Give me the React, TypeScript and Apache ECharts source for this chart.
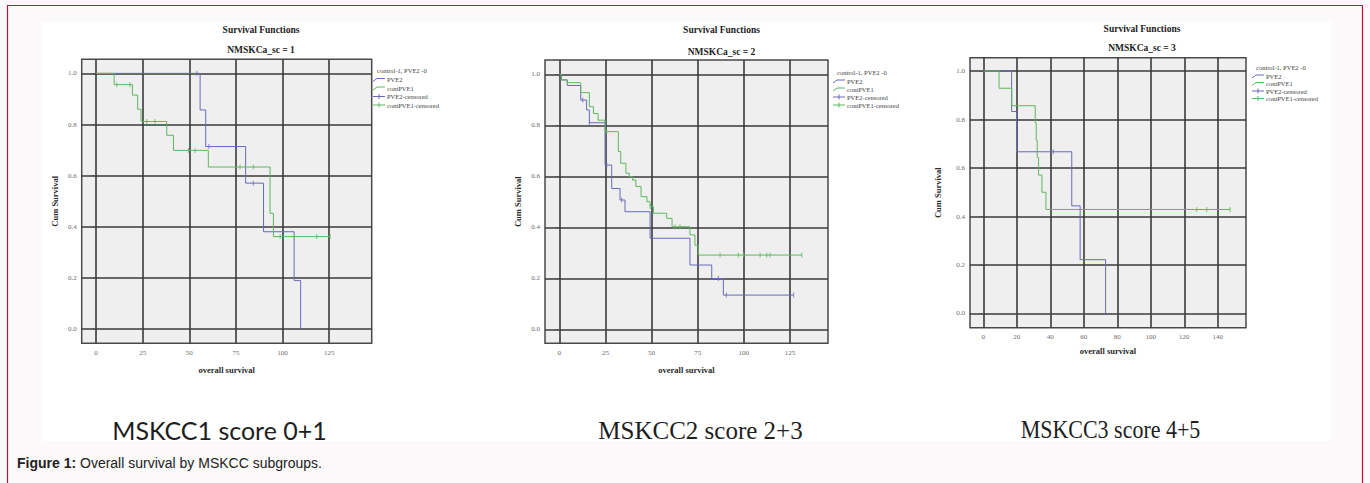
import React, { useEffect, useRef } from 'react';
import * as echarts from 'echarts';

// ---------- data ----------
const X_TICKS_A = [0, 25, 50, 75, 100, 125];
const X_TICKS_B = [0, 20, 40, 60, 80, 100, 120, 140];
const Y_TICKS = [0, 0.2, 0.4, 0.6, 0.8, 1.0];

const MAIN_TITLE = 'Survival Functions';
const PANEL_TITLES = ['NMSKCa_sc = 1', 'NMSKCa_sc = 2', 'NMSKCa_sc = 3'];
const PANEL_LABELS = ['MSKCC1 score 0+1', 'MSKCC2 score 2+3', 'MSKCC3 score 4+5'];
const LEGEND_TITLE = 'control-1, PVE2 -0';
const LEGEND_ITEMS = ['PVE2', 'contPVE1', 'PVE2-censored', 'contPVE1-censored'];
const X_NAME = 'overall survival';
const Y_NAME = 'Cum Survival';
const CAPTION_BOLD = 'Figure 1:';
const CAPTION_TEXT = ' Overall survival by MSKCC subgroups.';

// Panel 1 (NMSKCa_sc = 1)
const P1_PVE2: [number, number][] = [[0, 1], [55.8, 0.857], [58.8, 0.714], [80.2, 0.571], [89.8, 0.381], [106.2, 0.19], [109.7, 0]];
const P1_PVE2_CENS: [number, number][] = [[54, 1], [60.5, 0.714], [84.3, 0.571]];
const P1_CONT: [number, number][] = [[0, 1], [9.7, 0.956], [19.5, 0.915], [22.3, 0.86], [24.1, 0.812], [37.9, 0.758], [41.5, 0.699], [60.2, 0.634], [93.3, 0.453], [95.1, 0.362], [125.5, 0.362]];
const P1_CONT_CENS: [number, number][] = [[11.1, 0.956], [18.2, 0.956], [27.2, 0.812], [31.6, 0.812], [49.5, 0.699], [53.1, 0.699], [77.2, 0.634], [84.3, 0.634], [98.7, 0.362], [118.3, 0.362], [125.5, 0.362]];

// Panel 2 (NMSKCa_sc = 2)
const P2_PVE2: [number, number][] = [[0, 1], [1.2, 0.978], [4.3, 0.956], [11.6, 0.899], [14.8, 0.86], [16.3, 0.81], [24.8, 0.644], [28.4, 0.552], [32.9, 0.507], [35.6, 0.461], [49.2, 0.357], [70.8, 0.252], [82.6, 0.199], [88.9, 0.134], [127, 0.134]];
const P2_PVE2_CENS: [number, number][] = [[12.7, 0.899], [16.3, 0.81], [25.7, 0.644], [33.8, 0.507], [86.2, 0.199], [90.5, 0.134], [127, 0.134]];
const P2_CONT: [number, number][] = [[0, 1], [1, 0.978], [4.3, 0.967], [11.6, 0.928], [16.3, 0.873], [18.5, 0.846], [21, 0.82], [24.8, 0.775], [32, 0.697], [33.3, 0.651], [36.1, 0.612], [37.9, 0.598], [39.7, 0.585], [41.5, 0.56], [44.3, 0.52], [47.5, 0.5], [49.2, 0.481], [51, 0.455], [58.2, 0.435], [61.1, 0.402], [70.8, 0.37], [73.5, 0.33], [75.3, 0.291], [131.4, 0.291]];
const P2_CONT_CENS: [number, number][] = [[25.7, 0.775], [49.2, 0.481], [62.7, 0.402], [65.4, 0.402], [87.1, 0.291], [97, 0.291], [99.8, 0.291], [108.8, 0.291], [112.4, 0.291], [114.2, 0.291], [131.4, 0.291]];

// Panel 3 (NMSKCa_sc = 3)
const P3_PVE2: [number, number][] = [[0, 1], [16.9, 0.833], [19.9, 0.667], [52.8, 0.444], [57.8, 0.222], [73, 0]];
const P3_PVE2_CENS: [number, number][] = [[41.8, 0.667]];
const P3_CONT: [number, number][] = [[0, 1], [9.4, 0.929], [17, 0.857], [31, 0.786], [31.6, 0.714], [32.2, 0.643], [33, 0.571], [35, 0.5], [37.4, 0.429], [147.3, 0.429]];
const P3_CONT_CENS: [number, number][] = [[127.4, 0.429], [133.4, 0.429], [147.3, 0.429]];

// ---------- styles / layout ----------
const SERIF = '"Liberation Serif", "Times New Roman", serif';
const SANS = '"Liberation Sans", Arial, sans-serif';
const BLUE = '#676abb';
const GREEN = '#5cb85c';

const PANELS = [
  {
    km: [P1_PVE2, P1_CONT], cens: [P1_PVE2_CENS, P1_CONT_CENS], xTicks: X_TICKS_A,
    grid: { left: 81.7, top: 59.3, width: 290, height: 284 }, xr: [-7.7, 147.8], yr: [-0.055, 1.055],
    titleX: 261, titleY: [30, 50], xGap: 22, yGap: 22,
    legX: 373, legY: [70, 79.5, 88, 96.5, 105],
    label: { x: 219.5, y: 430, font: 'Lato', size: 25, sx: 1 },
  },
  {
    km: [P2_PVE2, P2_CONT], cens: [P2_PVE2_CENS, P2_CONT_CENS], xTicks: X_TICKS_A,
    grid: { left: 545, top: 60, width: 283, height: 283.3 }, xr: [-7.75, 145.6], yr: [-0.055, 1.056],
    titleX: 721.5, titleY: [30, 51.7], xGap: 22, yGap: 23,
    legX: 833, legY: [72, 81, 89, 97, 105],
    label: { x: 700.5, y: 430, font: SERIF, size: 25, sx: 1.0 },
  },
  {
    km: [P3_PVE2, P3_CONT], cens: [P3_PVE2_CENS, P3_CONT_CENS], xTicks: X_TICKS_B,
    grid: { left: 970, top: 57.7, width: 276, height: 270 }, xr: [-7.94, 156.8], yr: [-0.0586, 1.055],
    titleX: 1142, titleY: [29.3, 48.3], xGap: 19, yGap: 28,
    legX: 1252, legY: [67, 76, 83.5, 91, 98.5],
    label: { x: 1110.5, y: 430, font: SERIF, size: 25, sx: 0.88 },
  },
];

function buildOption() {
  const grid: any[] = [];
  const xAxis: any[] = [];
  const yAxis: any[] = [];
  const series: any[] = [];
  const graphic: any[] = [];

  graphic.push({ type: 'rect', z: -10, silent: true, shape: { x: 42, y: 22, width: 1289, height: 419 }, style: { fill: '#ffffff' } });
  graphic.push({ type: 'rect', z: 100, silent: true, shape: { x: 7.5, y: 5.5, width: 1355, height: 520 }, style: { fill: 'none', stroke: '#c8103c', lineWidth: 1.2 } });

  PANELS.forEach((p, i) => {
    grid.push({ ...p.grid, show: true, backgroundColor: '#efefef', borderColor: '#4a4a4a', borderWidth: 1.5, containLabel: false, outerBoundsMode: 'none' });
    xAxis.push({
      type: 'value', gridIndex: i, min: p.xr[0], max: p.xr[1],
      axisLine: { show: false },
      axisTick: { show: true, customValues: p.xTicks, length: 4, lineStyle: { color: '#555', width: 1 } },
      axisLabel: { customValues: p.xTicks, fontSize: 7, color: '#6a6a6a', margin: 6, fontFamily: SERIF, formatter: (v: number) => String(Math.round(v)) },
      splitLine: { show: true, lineStyle: { color: '#3a3a3a', width: 1.6 } },
      name: X_NAME, nameLocation: 'middle', nameGap: p.xGap,
      nameTextStyle: { fontFamily: SERIF, fontWeight: 'bold', fontSize: 8.5, color: '#2a2a2a' },
    });
    yAxis.push({
      type: 'value', gridIndex: i, min: p.yr[0], max: p.yr[1],
      axisLine: { show: false },
      axisTick: { show: true, customValues: Y_TICKS, length: 4, lineStyle: { color: '#555', width: 1 } },
      axisLabel: { customValues: Y_TICKS, fontSize: 7, color: '#6a6a6a', margin: 5, fontFamily: SERIF, formatter: (v: number) => v.toFixed(1) },
      splitLine: { show: true, lineStyle: { color: '#3a3a3a', width: 1.6 } },
      name: Y_NAME, nameLocation: 'middle', nameGap: p.yGap,
      nameTextStyle: { fontFamily: SERIF, fontWeight: 'bold', fontSize: 8.5, color: '#2a2a2a' },
    });
    const colors = [BLUE, GREEN];
    p.km.forEach((d, k) => {
      series.push({
        type: 'line', name: LEGEND_ITEMS[k], xAxisIndex: i, yAxisIndex: i, data: d, step: 'end',
        showSymbol: false, symbol: 'none', silent: true, z: 3,
        lineStyle: { color: colors[k], width: 1 }, itemStyle: { color: colors[k] },
      });
    });
    p.cens.forEach((d, k) => {
      series.push({
        type: 'scatter', name: LEGEND_ITEMS[k + 2], xAxisIndex: i, yAxisIndex: i, data: d,
        symbol: 'rect', symbolSize: [1, 5], silent: true, z: 4,
        itemStyle: { color: colors[k] },
      });
    });

    // titles
    graphic.push({ type: 'text', x: p.titleX, y: p.titleY[0], silent: true, style: { text: MAIN_TITLE, font: `bold 9.5px ${SERIF}`, fill: '#222', align: 'center', verticalAlign: 'middle' } });
    graphic.push({ type: 'text', x: p.titleX, y: p.titleY[1], silent: true, style: { text: PANEL_TITLES[i], font: `bold 9.5px ${SERIF}`, fill: '#222', align: 'center', verticalAlign: 'middle' } });

    // legend
    const lx = p.legX;
    graphic.push({ type: 'text', x: lx + 4, y: p.legY[0], silent: true, style: { text: LEGEND_TITLE, font: `6.5px ${SERIF}`, fill: '#444', align: 'left', verticalAlign: 'middle' } });
    LEGEND_ITEMS.forEach((name, k) => {
      const y = p.legY[k + 1];
      const c = colors[k % 2];
      if (k < 2) {
        graphic.push({ type: 'polyline', silent: true, shape: { points: [[lx, y + 2], [lx + 4, y - 1], [lx + 12, y - 1]] }, style: { stroke: c, lineWidth: 1, fill: 'none' } });
      } else {
        graphic.push({ type: 'line', silent: true, shape: { x1: lx, y1: y, x2: lx + 12, y2: y }, style: { stroke: c, lineWidth: 1 } });
        graphic.push({ type: 'line', silent: true, shape: { x1: lx + 6, y1: y - 2.5, x2: lx + 6, y2: y + 2.5 }, style: { stroke: c, lineWidth: 1 } });
      }
      graphic.push({ type: 'text', x: lx + 14, y, silent: true, style: { text: name, font: `6.5px ${SERIF}`, fill: '#444', align: 'left', verticalAlign: 'middle' } });
    });

    // bottom label
    const L = p.label;
    graphic.push({ type: 'text', x: L.x, y: L.y, scaleX: L.sx, silent: true, style: { text: PANEL_LABELS[i], font: `${L.size}px ${L.font}`, fill: '#1e1e1e', align: 'center', verticalAlign: 'middle' } });
  });

  graphic.push({
    type: 'text', x: 17, y: 463, silent: true,
    style: {
      text: `{b|${CAPTION_BOLD}}${CAPTION_TEXT}`,
      font: `14px ${SANS}`, fill: '#222', align: 'left', verticalAlign: 'middle',
      rich: { b: { fontWeight: 'bold', fontSize: 14, fontFamily: SANS, fill: '#222' } },
    },
  });

  return {
    animation: false,
    backgroundColor: '#fbf9fa',
    grid, xAxis, yAxis, series, graphic,
  };
}

export default function App() {
  const ref = useRef<HTMLDivElement>(null);
  useEffect(() => {
    if (!ref.current) return;
    const chart = echarts.init(ref.current, undefined, { renderer: 'svg' });
    chart.setOption(buildOption() as any);
    return () => chart.dispose();
  }, []);
  return <div ref={ref} style={{ position: 'fixed', left: 0, top: 0, width: 1370, height: 483 }} />;
}
